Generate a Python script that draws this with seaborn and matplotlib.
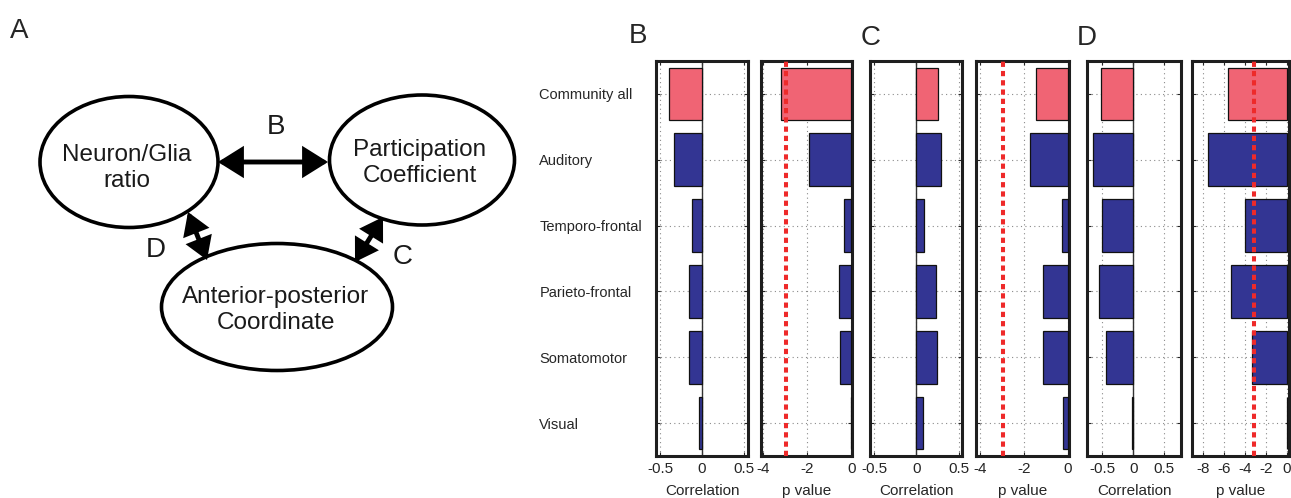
import numpy as np
import pandas as pd
import matplotlib
matplotlib.use("Agg")
import matplotlib.pyplot as plt
import seaborn as sns
from matplotlib.patches import Ellipse, FancyArrowPatch

sns.set_style("white")
plt.rcParams['font.family'] = ['Liberation Sans', 'DejaVu Sans']

# ---------------- data ----------------
categories = ["Community all", "Auditory", "Temporo-frontal",
              "Parieto-frontal", "Somatomotor", "Visual"]

corr_B = [-0.39, -0.33, -0.12, -0.15, -0.15, -0.035]
pval_B = [-3.2, -1.94, -0.35, -0.58, -0.53, -0.03]
corr_C = [0.25, 0.29, 0.085, 0.23, 0.24, 0.078]
pval_C = [-1.48, -1.71, -0.26, -1.16, -1.13, -0.22]
corr_D = [-0.53, -0.645, -0.51, -0.55, -0.45, -0.026]
pval_D = [-5.65, -7.57, -4.04, -5.32, -3.34, 0.0]

thresholds = [-2.97, -2.97, -3.15]

corr_ticks = [-0.5, 0, 0.5]
p_ticks_BC = [-4, -2, 0]
p_ticks_D = [-8, -6, -4, -2, 0]

pink = "#F06474"
blue = "#333593"
bar_colors = [pink] + [blue] * 5

W, H = 1291, 498
fig = plt.figure(figsize=(W / 100, H / 100), dpi=100)

def fr(x0, x1, y0=61, y1=456):
    return [x0 / W, 1 - y1 / H, (x1 - x0) / W, (y1 - y0) / H]

panels = [
    (fr(656, 748), corr_B, (-0.55, 0.55), corr_ticks, "Correlation", None),
    (fr(761, 852), pval_B, (-4.1, 0.03), p_ticks_BC, "p value", thresholds[0]),
    (fr(870, 962), corr_C, (-0.55, 0.54), corr_ticks, "Correlation", None),
    (fr(976, 1069), pval_C, (-4.2, 0.05), p_ticks_BC, "p value", thresholds[1]),
    (fr(1087, 1181), corr_D, (-0.75, 0.77), corr_ticks, "Correlation", None),
    (fr(1192, 1289), pval_D, (-9.1, 0.2), p_ticks_D, "p value", thresholds[2]),
]

for i, (rect, vals, xlim, xt, xlabel, th) in enumerate(panels):
    ax = fig.add_axes(rect)
    df = pd.DataFrame({"cat": categories, "val": vals})
    sns.barplot(data=df, x="val", y="cat", hue="cat", palette=bar_colors,
                saturation=1, orient="h", width=0.8, edgecolor="#111111",
                linewidth=0.9, legend=False, ax=ax, zorder=3)
    ax.set_xlim(*xlim)
    ax.set_ylim(5.5, -0.5)
    ax.set_xticks(xt)
    ax.set_xticklabels([("%g" % t) for t in xt], fontsize=11)
    ax.set_yticks(range(len(categories)))
    ax.grid(True, ls=(0, (1, 3)), color="#8a8a8a", lw=0.8, zorder=0)
    ax.set_axisbelow(True)
    if xlabel == "Correlation":
        ax.axvline(0, color="#333333", lw=1.0, zorder=2)
    if th is not None:
        ax.axvline(th, color="#EE2A2A", lw=2.9, ls=(0, (1.3, 1.0)), zorder=5)
    ax.set_xlabel(xlabel, fontsize=11, labelpad=6)
    ax.set_ylabel("")
    ax.tick_params(axis="both", direction="in", length=3, width=0.8,
                   top=True, right=True, bottom=True, left=True)
    ax.tick_params(axis="x", pad=4)
    if i == 0:
        ax.set_yticklabels(categories, fontsize=10.5)
        ax.tick_params(axis="y", pad=84)
        for lab in ax.get_yticklabels():
            lab.set_ha("left")
    else:
        ax.set_yticklabels([])
    for sp in ax.spines.values():
        sp.set_visible(True)
        sp.set_linewidth(2.2)
        sp.set_color("#1e1e1e")

# panel letters
fig.text(10 / W, 1 - 38 / H, "A", fontsize=20)
fig.text(629 / W, 1 - 43 / H, "B", fontsize=20)
fig.text(861 / W, 1 - 45 / H, "C", fontsize=20)
fig.text(1077 / W, 1 - 45 / H, "D", fontsize=20)

# ---------------- panel A diagram ----------------
axd = fig.add_axes([0, 0, 600 / W, 1])
axd.set_xlim(0, 600)
axd.set_ylim(H, 0)
axd.axis("off")

nodes = [
    ((129, 162), 178, 131, "Neuron/Glia\nratio", (127, 168)),
    ((422, 160), 185, 130, "Participation\nCoefficient", (420, 163)),
    ((277, 307), 231, 127, "Anterior-posterior\nCoordinate", (276, 310)),
]
for (cx, cy), w, h, label, (tx, ty) in nodes:
    axd.add_patch(Ellipse((cx, cy), w, h, fill=False, lw=2.6, ec="black"))
    axd.text(tx, ty, label, ha="center", va="center", fontsize=17.5,
             linespacing=1.2, color="#1a1a1a")

arrows = [((218, 162), (328, 162), 17), ((188, 212), (207, 260), 14),
          ((383, 217), (355, 262), 14)]
for p0, p1, ms in arrows:
    axd.add_patch(FancyArrowPatch(p0, p1, arrowstyle="<|-|>,head_length=0.8,head_width=0.5",
                                  mutation_scale=ms, lw=3.5, color="black",
                                  shrinkA=0, shrinkB=0, joinstyle="miter"))

axd.text(276, 127, "B", fontsize=20, ha="center", va="center", color="#1a1a1a")
axd.text(156, 250, "D", fontsize=20, ha="center", va="center", color="#1a1a1a")
axd.text(403, 257, "C", fontsize=20, ha="center", va="center", color="#1a1a1a")

fig.savefig("out.png", dpi=100)
